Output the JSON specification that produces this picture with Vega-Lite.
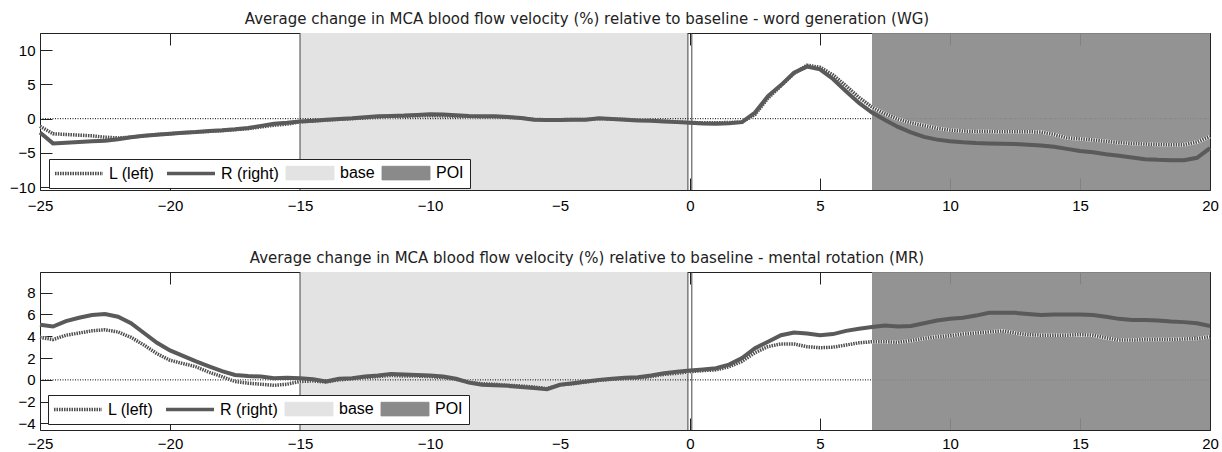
{
"$schema": "https://vega.github.io/schema/vega-lite/v6.json",
"padding": {"left": 9, "top": 11, "right": 2, "bottom": 0},
"background": "white",
"config": {"view": {"stroke": "#222", "strokeWidth": 1}, "font": "Liberation Sans"},
"spacing": 36,
"resolve": {"scale": {"color": "independent"}, "legend": {"color": "independent"}},
"datasets": {
"wg": [
{"t":-25,"L":-1.1,"R":-2.0},{"t":-24.5,"L":-2.2,"R":-3.6},{"t":-24,"L":-2.3,"R":-3.5},{"t":-23.5,"L":-2.4,"R":-3.4},{"t":-23,"L":-2.5,"R":-3.3},{"t":-22.5,"L":-2.7,"R":-3.2},{"t":-22,"L":-2.8,"R":-3.0},{"t":-21.5,"L":-2.7,"R":-2.7},{"t":-21,"L":-2.5,"R":-2.5},{"t":-20.5,"L":-2.3,"R":-2.35},{"t":-20,"L":-2.2,"R":-2.2},{"t":-19.5,"L":-2.05,"R":-2.05},{"t":-19,"L":-1.95,"R":-1.95},{"t":-18.5,"L":-1.85,"R":-1.8},{"t":-18,"L":-1.75,"R":-1.7},{"t":-17.5,"L":-1.6,"R":-1.55},{"t":-17,"L":-1.45,"R":-1.35},{"t":-16.5,"L":-1.2,"R":-1.05},{"t":-16,"L":-0.95,"R":-0.75},{"t":-15.5,"L":-0.8,"R":-0.6},{"t":-15,"L":-0.45,"R":-0.4},{"t":-14.5,"L":-0.35,"R":-0.3},{"t":-14,"L":-0.2,"R":-0.15},{"t":-13.5,"L":-0.1,"R":-0.05},{"t":-13,"L":0.0,"R":0.05},{"t":-12.5,"L":0.1,"R":0.2},{"t":-12,"L":0.2,"R":0.35},{"t":-11.5,"L":0.3,"R":0.4},{"t":-11,"L":0.35,"R":0.45},{"t":-10.5,"L":0.4,"R":0.55},{"t":-10,"L":0.45,"R":0.65},{"t":-9.5,"L":0.4,"R":0.6},{"t":-9,"L":0.35,"R":0.5},{"t":-8.5,"L":0.3,"R":0.4},{"t":-8,"L":0.25,"R":0.35},{"t":-7.5,"L":0.25,"R":0.35},{"t":-7,"L":0.2,"R":0.25},{"t":-6.5,"L":0.1,"R":0.1},{"t":-6,"L":-0.1,"R":-0.15},{"t":-5.5,"L":-0.15,"R":-0.2},{"t":-5,"L":-0.15,"R":-0.2},{"t":-4.5,"L":-0.1,"R":-0.15},{"t":-4,"L":-0.1,"R":-0.15},{"t":-3.5,"L":0.0,"R":0.05},{"t":-3,"L":-0.05,"R":-0.05},{"t":-2.5,"L":-0.1,"R":-0.15},{"t":-2,"L":-0.2,"R":-0.25},{"t":-1.5,"L":-0.25,"R":-0.3},{"t":-1,"L":-0.35,"R":-0.4},{"t":-0.5,"L":-0.45,"R":-0.5},{"t":0,"L":-0.55,"R":-0.6},{"t":0.5,"L":-0.6,"R":-0.7},{"t":1,"L":-0.6,"R":-0.75},{"t":1.5,"L":-0.55,"R":-0.65},{"t":2,"L":-0.5,"R":-0.5},{"t":2.5,"L":0.6,"R":0.9},{"t":3,"L":3.0,"R":3.3},{"t":3.5,"L":4.8,"R":4.9},{"t":4,"L":6.6,"R":6.7},{"t":4.5,"L":7.8,"R":7.6},{"t":5,"L":7.5,"R":7.2},{"t":5.5,"L":6.4,"R":5.8},{"t":6,"L":4.8,"R":4.0},{"t":6.5,"L":3.1,"R":2.3},{"t":7,"L":1.7,"R":0.9},{"t":7.5,"L":0.7,"R":-0.2},{"t":8,"L":-0.05,"R":-1.2},{"t":8.5,"L":-0.6,"R":-2.0},{"t":9,"L":-1.0,"R":-2.65},{"t":9.5,"L":-1.4,"R":-3.05},{"t":10,"L":-1.65,"R":-3.3},{"t":10.5,"L":-1.8,"R":-3.45},{"t":11,"L":-1.85,"R":-3.55},{"t":11.5,"L":-1.85,"R":-3.6},{"t":12,"L":-1.9,"R":-3.65},{"t":12.5,"L":-1.9,"R":-3.7},{"t":13,"L":-1.9,"R":-3.8},{"t":13.5,"L":-1.95,"R":-3.9},{"t":14,"L":-2.3,"R":-4.1},{"t":14.5,"L":-2.8,"R":-4.4},{"t":15,"L":-2.95,"R":-4.7},{"t":15.5,"L":-3.1,"R":-4.9},{"t":16,"L":-3.3,"R":-5.2},{"t":16.5,"L":-3.5,"R":-5.4},{"t":17,"L":-3.6,"R":-5.65},{"t":17.5,"L":-3.7,"R":-5.9},{"t":18,"L":-3.75,"R":-6.0},{"t":18.5,"L":-3.8,"R":-6.05},{"t":19,"L":-3.8,"R":-6.05},{"t":19.5,"L":-3.4,"R":-5.7},{"t":20,"L":-2.6,"R":-4.3}
],
"mr": [
{"t":-25,"L":3.9,"R":5.05},{"t":-24.5,"L":3.7,"R":4.9},{"t":-24,"L":4.1,"R":5.4},{"t":-23.5,"L":4.3,"R":5.7},{"t":-23,"L":4.5,"R":5.95},{"t":-22.5,"L":4.6,"R":6.05},{"t":-22,"L":4.4,"R":5.8},{"t":-21.5,"L":3.9,"R":5.2},{"t":-21,"L":3.2,"R":4.3},{"t":-20.5,"L":2.4,"R":3.4},{"t":-20,"L":1.8,"R":2.7},{"t":-19.5,"L":1.5,"R":2.2},{"t":-19,"L":1.2,"R":1.7},{"t":-18.5,"L":0.7,"R":1.25},{"t":-18,"L":0.3,"R":0.8},{"t":-17.5,"L":-0.15,"R":0.45},{"t":-17,"L":-0.3,"R":0.35},{"t":-16.5,"L":-0.4,"R":0.3},{"t":-16,"L":-0.5,"R":0.15},{"t":-15.5,"L":-0.4,"R":0.2},{"t":-15,"L":-0.15,"R":0.15},{"t":-14.5,"L":-0.1,"R":0.05},{"t":-14,"L":-0.2,"R":-0.15},{"t":-13.5,"L":0.0,"R":0.1},{"t":-13,"L":0.1,"R":0.15},{"t":-12.5,"L":0.2,"R":0.3},{"t":-12,"L":0.3,"R":0.4},{"t":-11.5,"L":0.4,"R":0.55},{"t":-11,"L":0.35,"R":0.5},{"t":-10.5,"L":0.35,"R":0.45},{"t":-10,"L":0.3,"R":0.4},{"t":-9.5,"L":0.2,"R":0.3},{"t":-9,"L":0.05,"R":0.1},{"t":-8.5,"L":-0.2,"R":-0.25},{"t":-8,"L":-0.35,"R":-0.45},{"t":-7.5,"L":-0.4,"R":-0.5},{"t":-7,"L":-0.5,"R":-0.55},{"t":-6.5,"L":-0.55,"R":-0.65},{"t":-6,"L":-0.65,"R":-0.75},{"t":-5.5,"L":-0.8,"R":-0.85},{"t":-5,"L":-0.45,"R":-0.45},{"t":-4.5,"L":-0.35,"R":-0.3},{"t":-4,"L":-0.2,"R":-0.15},{"t":-3.5,"L":-0.05,"R":0.0},{"t":-3,"L":0.05,"R":0.1},{"t":-2.5,"L":0.1,"R":0.2},{"t":-2,"L":0.15,"R":0.25},{"t":-1.5,"L":0.3,"R":0.4},{"t":-1,"L":0.5,"R":0.6},{"t":-0.5,"L":0.6,"R":0.75},{"t":0,"L":0.75,"R":0.85},{"t":0.5,"L":0.85,"R":0.95},{"t":1,"L":0.92,"R":1.07},{"t":1.5,"L":1.2,"R":1.4},{"t":2,"L":1.7,"R":2.0},{"t":2.5,"L":2.5,"R":2.9},{"t":3,"L":3.05,"R":3.5},{"t":3.5,"L":3.3,"R":4.1},{"t":4,"L":3.3,"R":4.35},{"t":4.5,"L":3.05,"R":4.25},{"t":5,"L":2.95,"R":4.1},{"t":5.5,"L":3.0,"R":4.2},{"t":6,"L":3.2,"R":4.5},{"t":6.5,"L":3.4,"R":4.7},{"t":7,"L":3.5,"R":4.85},{"t":7.5,"L":3.5,"R":5.0},{"t":8,"L":3.45,"R":4.9},{"t":8.5,"L":3.6,"R":4.95},{"t":9,"L":3.8,"R":5.2},{"t":9.5,"L":3.95,"R":5.45},{"t":10,"L":4.05,"R":5.6},{"t":10.5,"L":4.2,"R":5.7},{"t":11,"L":4.3,"R":5.9},{"t":11.5,"L":4.4,"R":6.15},{"t":12,"L":4.5,"R":6.15},{"t":12.5,"L":4.3,"R":6.15},{"t":13,"L":4.15,"R":6.05},{"t":13.5,"L":4.1,"R":5.95},{"t":14,"L":4.1,"R":6.0},{"t":14.5,"L":4.1,"R":6.0},{"t":15,"L":4.15,"R":6.0},{"t":15.5,"L":4.1,"R":5.95},{"t":16,"L":3.85,"R":5.8},{"t":16.5,"L":3.65,"R":5.6},{"t":17,"L":3.65,"R":5.5},{"t":17.5,"L":3.7,"R":5.5},{"t":18,"L":3.7,"R":5.45},{"t":18.5,"L":3.7,"R":5.35},{"t":19,"L":3.75,"R":5.3},{"t":19.5,"L":3.8,"R":5.2},{"t":20,"L":3.95,"R":4.95}
],
"regions": [{"series":"base","x":-15,"x2":-0.08},{"series":"POI","x":7,"x2":20}],
"vlines": [{"x":-15},{"x":-0.08},{"x":0.07}]
},
"vconcat": [
{
"width": 1170, "height": 157,
"title": {"text": "Average change in MCA blood flow velocity (%) relative to baseline - word generation (WG)", "font": "DejaVu Sans", "fontSize": 15, "fontWeight": "normal", "color": "#222", "anchor": "middle", "dx": -38, "offset": 6},
"resolve": {"axis": {"x": "independent"}},
"layer": [
{"data": {"name": "regions"}, "mark": {"type": "rect"},
 "encoding": {
  "x": {"field": "x", "type": "quantitative", "scale": {"domain": [-25, 20], "nice": false, "zero": false}, "axis": {"values": [-25,-20,-15,-10,-5,0,5,10,15,20], "tickSize": -12, "labelPadding": 20, "labelOverlap": false, "domain": false, "grid": false, "labelFont": "Liberation Sans", "labelFontSize": 15, "labelColor": "black", "tickColor": "#222", "title": null, "labelFlush": false}},
  "x2": {"field": "x2"},
  "color": {"field": "series", "type": "nominal", "scale": {"domain": ["L","R","base","POI"], "range": ["#4f4f4f","#5a5a5a","#e3e3e3","#8a8a8a"]},
   "legend": {"title": null, "orient": "none", "legendX": 9, "legendY": 126, "direction": "horizontal", "columns": 4, "symbolSize": 256, "symbolStrokeWidth": 3.5, "labelFont": "Liberation Sans", "labelFontSize": 16, "labelColor": "black", "labelOffset": 38, "columnPadding": 5, "padding": 6, "strokeColor": "#222", "fillColor": "white",
    "labelExpr": "datum.label == 'L' ? 'L (left)' : datum.label == 'R' ? 'R (right)' : datum.label",
    "encode": {"symbols": {"update": {
     "shape": {"signal": "datum.value == 'base' || datum.value == 'POI' ? 'M-1,-0.85H5V0.85H-1Z' : 'M-1,0H5'"},
     "fill": {"signal": "datum.value == 'base' ? '#e3e3e3' : datum.value == 'POI' ? '#939393' : 'transparent'"},
     "stroke": {"signal": "datum.value == 'base' || datum.value == 'POI' ? '#666666' : '#555555'"},
     "strokeWidth": {"signal": "datum.value == 'base' || datum.value == 'POI' ? 1 : 3.5"},
     "strokeDash": {"signal": "datum.value == 'L' ? [1.5,1] : [1,0]"},
     "opacity": {"value": 1}
    }}}}}
 },
 "transform": [{"filter": "datum.series == 'base'"}]
},
{"data": {"values": [{"a": -25, "b": 20}]}, "mark": {"type": "rule", "color": "#000", "strokeWidth": 1, "strokeDash": [1, 1.5]},
 "encoding": {"x": {"field": "a", "type": "quantitative", "axis": {"orient": "top", "labels": false, "values": [-25,-20,-15,-10,-5,0,5,10,15,20], "tickSize": -12, "domain": false, "grid": false, "tickColor": "#222", "title": null}}, "x2": {"field": "b"},
  "y": {"datum": 0, "type": "quantitative", "scale": {"domain": [-10.4, 12.5], "nice": false, "zero": false}, "axis": {"values": [-10,-5,0,5,10], "tickSize": -12, "labelPadding": 17, "labelOverlap": false, "domain": false, "grid": false, "labelFont": "Liberation Sans", "labelFontSize": 15, "labelColor": "black", "tickColor": "#222", "title": null}}}
},
{"data": {"name": "regions"}, "mark": {"type": "rect", "opacity": 0.92},
 "transform": [{"filter": "datum.series == 'POI'"}],
 "encoding": {"x": {"field": "x", "type": "quantitative", "axis": null}, "x2": {"field": "x2"}, "color": {"field": "series", "type": "nominal"}}
},
{"data": {"name": "vlines"}, "mark": {"type": "rule", "color": "#444", "strokeWidth": 1},
 "encoding": {"x": {"field": "x", "type": "quantitative", "axis": null}}
},
{"data": {"name": "wg"}, "transform": [{"fold": ["L", "R"], "as": ["series", "v"]}, {"filter": "datum.series == 'L'"}],
 "mark": {"type": "line", "color": "white", "strokeWidth": 3.5},
 "encoding": {"x": {"field": "t", "type": "quantitative", "axis": null}, "y": {"field": "v", "type": "quantitative", "scale": {"domain": [-10.4, 12.5], "nice": false, "zero": false}, "axis": {"values": [-10,-5,0,5,10], "tickSize": -12, "labelPadding": 17, "labelOverlap": false, "domain": false, "grid": false, "labelFont": "Liberation Sans", "labelFontSize": 15, "labelColor": "black", "tickColor": "#222", "title": null}}}
},
{"data": {"name": "wg"}, "transform": [{"fold": ["L", "R"], "as": ["series", "v"]}, {"filter": "datum.series == 'L'"}],
 "mark": {"type": "line", "strokeWidth": 3.5, "strokeDash": [1.5, 1]},
 "encoding": {"x": {"field": "t", "type": "quantitative", "axis": null}, "y": {"field": "v", "type": "quantitative", "scale": {"domain": [-10.4, 12.5], "nice": false, "zero": false}, "axis": {"values": [-10,-5,0,5,10], "tickSize": -12, "labelPadding": 17, "labelOverlap": false, "domain": false, "grid": false, "labelFont": "Liberation Sans", "labelFontSize": 15, "labelColor": "black", "tickColor": "#222", "title": null}}, "color": {"field": "series", "type": "nominal"}}
},
{"data": {"name": "wg"}, "transform": [{"fold": ["L", "R"], "as": ["series", "v"]}, {"filter": "datum.series == 'R'"}],
 "mark": {"type": "line", "strokeWidth": 4},
 "encoding": {"x": {"field": "t", "type": "quantitative", "axis": null}, "y": {"field": "v", "type": "quantitative", "scale": {"domain": [-10.4, 12.5], "nice": false, "zero": false}, "axis": {"values": [-10,-5,0,5,10], "tickSize": -12, "labelPadding": 17, "labelOverlap": false, "domain": false, "grid": false, "labelFont": "Liberation Sans", "labelFontSize": 15, "labelColor": "black", "tickColor": "#222", "title": null}}, "color": {"field": "series", "type": "nominal"}}
}
]
},
{
"width": 1170, "height": 158,
"title": {"text": "Average change in MCA blood flow velocity (%) relative to baseline - mental rotation (MR)", "font": "DejaVu Sans", "fontSize": 15, "fontWeight": "normal", "color": "#222", "anchor": "middle", "dx": -38, "offset": 6},
"resolve": {"axis": {"x": "independent"}},
"layer": [
{"data": {"name": "regions"}, "mark": {"type": "rect"},
 "encoding": {
  "x": {"field": "x", "type": "quantitative", "scale": {"domain": [-25, 20], "nice": false, "zero": false}, "axis": {"values": [-25,-20,-15,-10,-5,0,5,10,15,20], "tickSize": -12, "labelPadding": 18, "labelOverlap": false, "domain": false, "grid": false, "labelFont": "Liberation Sans", "labelFontSize": 15, "labelColor": "black", "tickColor": "#222", "title": null, "labelFlush": false}},
  "x2": {"field": "x2"},
  "color": {"field": "series", "type": "nominal", "scale": {"domain": ["L","R","base","POI"], "range": ["#4f4f4f","#5a5a5a","#e3e3e3","#8a8a8a"]},
   "legend": {"title": null, "orient": "none", "legendX": 8, "legendY": 123, "direction": "horizontal", "columns": 4, "symbolSize": 256, "symbolStrokeWidth": 3.5, "labelFont": "Liberation Sans", "labelFontSize": 16, "labelColor": "black", "labelOffset": 38, "columnPadding": 5, "padding": 6, "strokeColor": "#222", "fillColor": "white",
    "labelExpr": "datum.label == 'L' ? 'L (left)' : datum.label == 'R' ? 'R (right)' : datum.label",
    "encode": {"symbols": {"update": {
     "shape": {"signal": "datum.value == 'base' || datum.value == 'POI' ? 'M-1,-0.85H5V0.85H-1Z' : 'M-1,0H5'"},
     "fill": {"signal": "datum.value == 'base' ? '#e3e3e3' : datum.value == 'POI' ? '#939393' : 'transparent'"},
     "stroke": {"signal": "datum.value == 'base' || datum.value == 'POI' ? '#666666' : '#555555'"},
     "strokeWidth": {"signal": "datum.value == 'base' || datum.value == 'POI' ? 1 : 3.5"},
     "strokeDash": {"signal": "datum.value == 'L' ? [1.5,1] : [1,0]"},
     "opacity": {"value": 1}
    }}}}}
 },
 "transform": [{"filter": "datum.series == 'base'"}]
},
{"data": {"values": [{"a": -25, "b": 20}]}, "mark": {"type": "rule", "color": "#000", "strokeWidth": 1, "strokeDash": [1, 1.5]},
 "encoding": {"x": {"field": "a", "type": "quantitative", "axis": {"orient": "top", "labels": false, "values": [-25,-20,-15,-10,-5,0,5,10,15,20], "tickSize": -12, "domain": false, "grid": false, "tickColor": "#222", "title": null}}, "x2": {"field": "b"},
  "y": {"datum": 0, "type": "quantitative", "scale": {"domain": [-4.6, 9.9], "nice": false, "zero": false}, "axis": {"values": [-4,-2,0,2,4,6,8], "tickSize": -12, "labelPadding": 17, "labelOverlap": false, "domain": false, "grid": false, "labelFont": "Liberation Sans", "labelFontSize": 15, "labelColor": "black", "tickColor": "#222", "title": null}}}
},
{"data": {"name": "regions"}, "mark": {"type": "rect", "opacity": 0.92},
 "transform": [{"filter": "datum.series == 'POI'"}],
 "encoding": {"x": {"field": "x", "type": "quantitative", "axis": null}, "x2": {"field": "x2"}, "color": {"field": "series", "type": "nominal"}}
},
{"data": {"name": "vlines"}, "mark": {"type": "rule", "color": "#444", "strokeWidth": 1},
 "encoding": {"x": {"field": "x", "type": "quantitative", "axis": null}}
},
{"data": {"name": "mr"}, "transform": [{"fold": ["L", "R"], "as": ["series", "v"]}, {"filter": "datum.series == 'L'"}],
 "mark": {"type": "line", "color": "white", "strokeWidth": 3.5},
 "encoding": {"x": {"field": "t", "type": "quantitative", "axis": null}, "y": {"field": "v", "type": "quantitative", "scale": {"domain": [-4.6, 9.9], "nice": false, "zero": false}, "axis": {"values": [-4,-2,0,2,4,6,8], "tickSize": -12, "labelPadding": 17, "labelOverlap": false, "domain": false, "grid": false, "labelFont": "Liberation Sans", "labelFontSize": 15, "labelColor": "black", "tickColor": "#222", "title": null}}}
},
{"data": {"name": "mr"}, "transform": [{"fold": ["L", "R"], "as": ["series", "v"]}, {"filter": "datum.series == 'L'"}],
 "mark": {"type": "line", "strokeWidth": 3.5, "strokeDash": [1.5, 1]},
 "encoding": {"x": {"field": "t", "type": "quantitative", "axis": null}, "y": {"field": "v", "type": "quantitative", "scale": {"domain": [-4.6, 9.9], "nice": false, "zero": false}, "axis": {"values": [-4,-2,0,2,4,6,8], "tickSize": -12, "labelPadding": 17, "labelOverlap": false, "domain": false, "grid": false, "labelFont": "Liberation Sans", "labelFontSize": 15, "labelColor": "black", "tickColor": "#222", "title": null}}, "color": {"field": "series", "type": "nominal"}}
},
{"data": {"name": "mr"}, "transform": [{"fold": ["L", "R"], "as": ["series", "v"]}, {"filter": "datum.series == 'R'"}],
 "mark": {"type": "line", "strokeWidth": 4},
 "encoding": {"x": {"field": "t", "type": "quantitative", "axis": null}, "y": {"field": "v", "type": "quantitative", "scale": {"domain": [-4.6, 9.9], "nice": false, "zero": false}, "axis": {"values": [-4,-2,0,2,4,6,8], "tickSize": -12, "labelPadding": 17, "labelOverlap": false, "domain": false, "grid": false, "labelFont": "Liberation Sans", "labelFontSize": 15, "labelColor": "black", "tickColor": "#222", "title": null}}, "color": {"field": "series", "type": "nominal"}}
}
]
}
]
}
